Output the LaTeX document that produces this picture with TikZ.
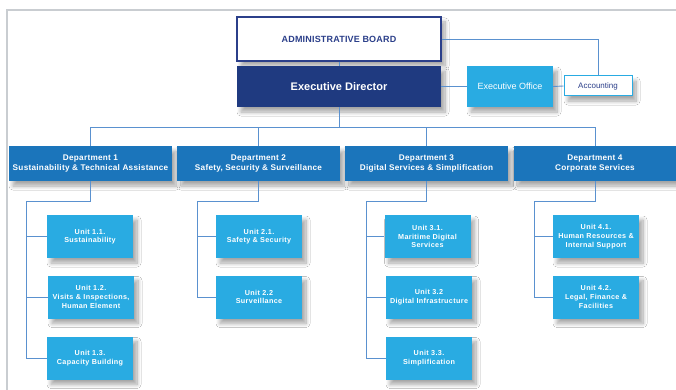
\documentclass[tikz,border=0pt]{standalone}
\usepackage{fontspec}
\setmainfont{Liberation Sans}
\usetikzlibrary{shadows.blur}
\definecolor{navy}{HTML}{1F3A80}
\definecolor{deptc}{HTML}{1B75BB}
\definecolor{unitc}{HTML}{29ABE2}
\definecolor{connc}{HTML}{5A91CF}
\definecolor{framec}{HTML}{C9CDD1}
\definecolor{boardtxt}{HTML}{2B3F8A}
\begin{document}
\begin{tikzpicture}[x=1pt,y=-1pt,
  sh/.style={blur shadow={shadow xshift=4pt,shadow yshift=-5pt,shadow opacity=35,shadow blur steps=10,shadow blur radius=4pt}},
  base/.style={inner sep=1pt,align=center,sh},
  boardbox/.style={base,fill=white,draw=boardtxt,line width=1.2pt,text=boardtxt,minimum width=204pt,minimum height=44pt,font=\fontsize{9}{11}\selectfont\bfseries\addfontfeatures{LetterSpace=2}},
  edbox/.style={base,fill=navy,text=white,minimum width=204pt,minimum height=41pt,font=\fontsize{11}{13}\selectfont\bfseries},
  eobox/.style={base,fill=unitc,text=white,minimum width=86pt,minimum height=41pt,font=\fontsize{9}{11}\selectfont},
  accbox/.style={base,fill=white,draw=unitc,line width=1pt,text=boardtxt,minimum width=68pt,minimum height=20pt,font=\fontsize{8}{10}\selectfont},
  deptbox/.style={base,fill=deptc,text=white,minimum width=163pt,minimum height=35pt,font=\fontsize{8.2}{10}\selectfont\bfseries\addfontfeatures{LetterSpace=3.3}},
  unitbox/.style={base,fill=unitc,text=white,minimum width=86pt,minimum height=43pt,font=\fontsize{7.2}{8.7}\selectfont\bfseries\addfontfeatures{LetterSpace=5}},
  conn/.style={draw=connc,line width=0.9pt}
]
\clip (0,0) rectangle (676,390);
\useasboundingbox (0,0) rectangle (676,390);
\fill[white] (0,0) rectangle (676,390);
\draw[framec,line width=1.5pt] (7,400) -- (7,10) -- (690,10);

% top
\node[boardbox] (board) at (339,39) {ADMINISTRATIVE BOARD};
\node[edbox] (ed) at (339,86.5) {Executive Director};
\node[eobox] (eo) at (510,86.5) {Executive Office};
\node[accbox] (acc) at (598,86) {Accounting};

% departments
\node[deptbox] (d1) at (90.5,163.5) {Department 1\\Sustainability \& Technical Assistance};
\node[deptbox] (d2) at (258.5,163.5) {Department 2\\Safety, Security \& Surveillance};
\node[deptbox] (d3) at (426.5,163.5) {Department 3\\Digital Services \& Simplification};
\node[deptbox] (d4) at (595,163.5) {Department 4\\Corporate Services};

% units
\node[unitbox] (u11) at (90,236.5) {Unit 1.1.\\Sustainability};
\node[unitbox] (u12) at (91,297) {Unit 1.2.\\Visits \& Inspections,\\Human Element};
\node[unitbox] (u13) at (90,358) {Unit 1.3.\\Capacity Building};
\node[unitbox] (u21) at (259,236.5) {Unit 2.1.\\Safety \& Security};
\node[unitbox] (u22) at (259,297) {Unit 2.2\\Surveillance};
\node[unitbox] (u31) at (427.5,236.5) {Unit 3.1.\\Maritime Digital\\Services};
\node[unitbox] (u32) at (429,297) {Unit 3.2\\Digital Infrastructure};
\node[unitbox] (u33) at (429,358) {Unit 3.3.\\Simplification};
\node[unitbox] (u41) at (596,236.5) {Unit 4.1.\\Human Resources \&\\Internal Support};
\node[unitbox] (u42) at (596,297) {Unit 4.2.\\Legal, Finance \&\\Facilities};

% connectors
\draw[conn] (board.south) -- (ed.north);
\draw[conn] (ed.east) -- (eo.west);
\draw[conn] (eo.east) -- (acc.west);
\draw[conn] (board.east) -| (acc.north);
\coordinate (bus) at (339,127);
\draw[conn] (ed.south) -- (bus);
\foreach \d in {d1,d2,d3,d4} \draw[conn] (bus) -| (\d.north);

\coordinate (k1) at (26,201);
\coordinate (k2) at (197,201);
\coordinate (k3) at (366,201);
\coordinate (k4) at (534,201);
\draw[conn] (d1.south) |- (k1);
\draw[conn] (d2.south) |- (k2);
\draw[conn] (d3.south) |- (k3);
\draw[conn] (d4.south) |- (k4);
\foreach \u in {u11,u12,u13} \draw[conn] (k1) |- (\u.west);
\foreach \u in {u21,u22} \draw[conn] (k2) |- (\u.west);
\foreach \u in {u31,u32,u33} \draw[conn] (k3) |- (\u.west);
\foreach \u in {u41,u42} \draw[conn] (k4) |- (\u.west);
\end{tikzpicture}
\end{document}
